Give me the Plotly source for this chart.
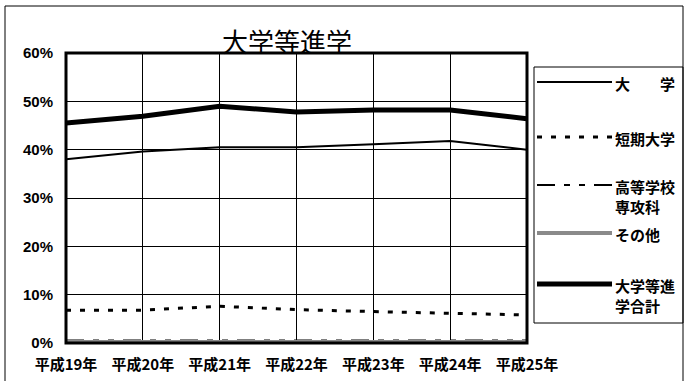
import plotly.graph_objects as go

# 進学率（%）
years = ["平成19年", "平成20年", "平成21年", "平成22年", "平成23年", "平成24年", "平成25年"]
daigaku = [38.0, 39.6, 40.5, 40.5, 41.1, 41.8, 40.0]
tanki = [6.8, 6.8, 7.6, 6.9, 6.5, 6.1, 5.8]
senkoka = [0.5, 0.5, 0.5, 0.5, 0.5, 0.5, 0.5]
sonota = [0.2, 0.2, 0.2, 0.2, 0.2, 0.2, 0.2]
gokei = [45.5, 46.9, 49.0, 47.8, 48.2, 48.2, 46.4]

y_ticks = [0, 10, 20, 30, 40, 50, 60]
y_labels = ["0%", "10%", "20%", "30%", "40%", "50%", "60%"]

W, H = 685, 381
L, R, T, B = 66, 527, 53, 343

JP = "Noto Sans CJK JP"
AR = "Liberation Sans"

series = [
    ("大　　学", daigaku, dict(color="black", width=2, dash="solid")),
    ("短期大学", tanki, dict(color="black", width=3, dash="5px,9px")),
    ("高等学校<br>専攻科", senkoka,
     dict(color="black", width=2, dash="18px,9px,6px,9px,6px,9px")),
    ("その他", sonota, dict(color="#8a8a8a", width=4, dash="solid")),
    ("大学等進<br>学合計", gokei, dict(color="black", width=5, dash="solid")),
]

fig = go.Figure()
for name, vals, ln in series:
    fig.add_trace(go.Scatter(x=years, y=vals, mode="lines", name=name,
                             line=ln, showlegend=False))


def px_x(px):
    return (px - L) / (R - L)


def px_y(py):
    return (B - py) / (B - T)


shapes = []
annotations = []

# 外枠
shapes.append(dict(type="rect", xref="paper", yref="paper",
                   x0=px_x(5), x1=px_x(683), y0=px_y(6), y1=px_y(395),
                   line=dict(color="black", width=1)))
# プロットエリア枠
shapes.append(dict(type="rect", xref="paper", yref="paper",
                   x0=0, x1=1, y0=0, y1=1,
                   line=dict(color="black", width=3)))
# 凡例枠
shapes.append(dict(type="rect", xref="paper", yref="paper",
                   x0=px_x(534), x1=px_x(683), y0=px_y(67), y1=px_y(323),
                   line=dict(color="black", width=1)))

legend_rows = [82, 137, 185, 233, 284]
for (name, vals, ln), yy in zip(series, legend_rows):
    shapes.append(dict(type="line", xref="paper", yref="paper",
                       x0=px_x(537), x1=px_x(612), y0=px_y(yy), y1=px_y(yy),
                       line=ln))
    annotations.append(dict(xref="paper", yref="paper", x=px_x(613), y=px_y(yy - 11),
                            xanchor="left", yanchor="top", align="left",
                            text=name, showarrow=False,
                            font=dict(family=JP, size=15, color="black", weight="bold")))

annotations.append(dict(xref="paper", yref="paper", x=px_x(287), y=px_y(41),
                        xanchor="center", yanchor="middle", text="大学等進学",
                        showarrow=False,
                        font=dict(family=JP, size=26, color="black")))

fig.update_layout(
    width=W, height=H,
    margin=dict(l=L, r=W - R, t=T, b=H - B),
    paper_bgcolor="white", plot_bgcolor="white",
    showlegend=False,
    shapes=shapes, annotations=annotations,
    xaxis=dict(type="category", range=[0, 6], showgrid=True, automargin=False,
               gridcolor="black", gridwidth=1, showline=False, ticks="",
               ticklabelstandoff=11,
               tickfont=dict(family=JP, size=15, color="black", weight="bold"),
               zeroline=False),
    yaxis=dict(range=[0, 60], tickvals=y_ticks, ticktext=y_labels,
               showgrid=True, gridcolor="black", gridwidth=1, automargin=False,
               showline=False, ticks="", ticklabelstandoff=12,
               tickfont=dict(family=AR, size=15, color="black", weight="bold"),
               zeroline=False),
)

fig.write_html("out.html")
